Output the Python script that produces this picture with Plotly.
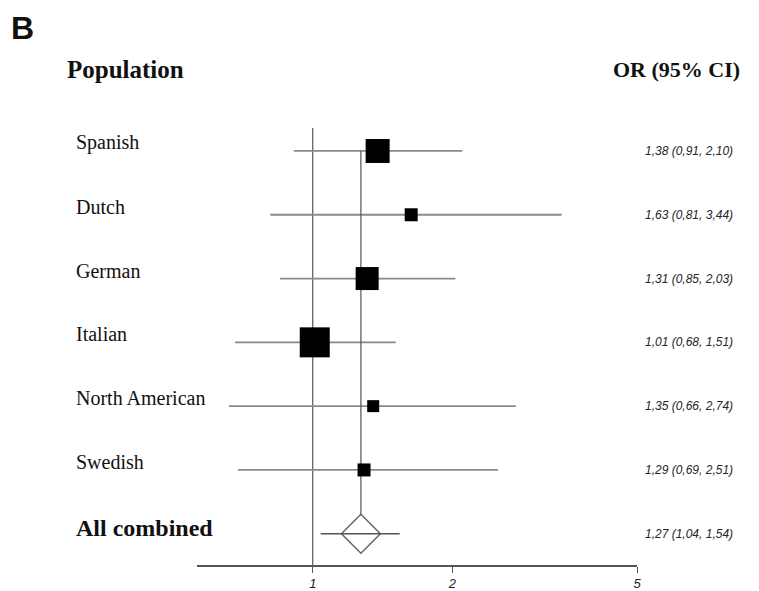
import math
import plotly.graph_objects as go

populations = ["Spanish", "Dutch", "German", "Italian", "North American", "Swedish"]
or_values = [1.38, 1.63, 1.31, 1.01, 1.35, 1.29]
ci_low = [0.91, 0.81, 0.85, 0.68, 0.66, 0.69]
ci_high = [2.10, 3.44, 2.03, 1.51, 2.74, 2.51]
box_sizes = [24, 13, 23, 30, 12, 13]

combined_label = "All combined"
combined_or = 1.27
combined_low = 1.04
combined_high = 1.54

tick_values = [1, 2, 5]
tick_labels = ["1", "2", "5"]


def fmt(v):
    return f"{v:.2f}".replace(".", ",")


n = len(populations)
rows = list(range(n))
comb_row = n

fig = go.Figure()

LINE_GREY = "#8a8a8a"
DARK_GREY = "#555555"

# CI lines for studies
cx, cy = [], []
for i in rows:
    cx += [ci_low[i], ci_high[i], None]
    cy += [i, i, None]
fig.add_trace(go.Scatter(x=cx, y=cy, mode="lines",
                         line=dict(color=LINE_GREY, width=1.8),
                         hoverinfo="skip", showlegend=False))

# vertical line at combined estimate
fig.add_trace(go.Scatter(x=[combined_or, combined_or], y=[0, comb_row],
                         mode="lines", line=dict(color=DARK_GREY, width=1.2),
                         hoverinfo="skip", showlegend=False))

# boxes
fig.add_trace(go.Scatter(x=or_values, y=rows, mode="markers",
                         marker=dict(symbol="square", size=box_sizes, color="black",
                                     opacity=1, line=dict(width=0)),
                         showlegend=False))

# diamond
fig.add_trace(go.Scatter(x=[combined_or], y=[comb_row], mode="markers",
                         marker=dict(symbol="diamond", size=30, color="white", opacity=1,
                                     line=dict(color="#666666", width=1.5)),
                         showlegend=False))

# combined CI line
fig.add_trace(go.Scatter(x=[combined_low, combined_high], y=[comb_row, comb_row],
                         mode="lines", line=dict(color=DARK_GREY, width=1.4),
                         hoverinfo="skip", showlegend=False))

# null line at OR = 1
fig.add_shape(type="line", xref="x", yref="paper", x0=1, x1=1, y0=0, y1=1,
              line=dict(color=DARK_GREY, width=1.2), layer="below")

serif = "Liberation Serif"
sans = "Liberation Sans"

LEFT_X = (74 - 197) / 440
RIGHT_X = (643 - 197) / 440

ann = []
for i, name in enumerate(populations):
    ann.append(dict(x=LEFT_X, y=i, xref="paper", yref="y", text=name,
                    showarrow=False, xanchor="left", yanchor="middle", yshift=8,
                    font=dict(family=serif, size=20, color="#111111")))
    ann.append(dict(x=RIGHT_X, y=i, xref="paper", yref="y",
                    text=f"<i>{fmt(or_values[i])} ({fmt(ci_low[i])}, {fmt(ci_high[i])})</i>",
                    showarrow=False, xanchor="left", yanchor="middle",
                    font=dict(family=sans, size=12, color="#262626")))
ann.append(dict(x=LEFT_X, y=comb_row, xref="paper", yref="y", text="<b>" + combined_label + "</b>",
                showarrow=False, xanchor="left", yanchor="middle", yshift=6,
                font=dict(family=serif, size=24, color="#111111")))
ann.append(dict(x=RIGHT_X, y=comb_row, xref="paper", yref="y",
                text=f"<i>{fmt(combined_or)} ({fmt(combined_low)}, {fmt(combined_high)})</i>",
                showarrow=False, xanchor="left", yanchor="middle",
                font=dict(family=sans, size=12, color="#262626")))
HEAD_Y = (565 - 70) / 437
ann.append(dict(x=(65 - 197) / 440, y=HEAD_Y, xref="paper", yref="paper", text="<b>Population</b>",
                showarrow=False, xanchor="left", yanchor="middle",
                font=dict(family=serif, size=25, color="#111111")))
ann.append(dict(x=(742 - 197) / 440, y=HEAD_Y, xref="paper", yref="paper", text="<b>OR (95% CI)</b>",
                showarrow=False, xanchor="right", yanchor="middle",
                font=dict(family=serif, size=22, color="#111111")))
ann.append(dict(x=(9 - 197) / 440, y=(565 - 28) / 437, xref="paper", yref="paper", text="<b>B</b>",
                showarrow=False, xanchor="left", yanchor="middle",
                font=dict(family=sans, size=32, color="#111111")))

fig.update_layout(
    width=751, height=590,
    margin=dict(l=189, r=122, t=120, b=33, autoexpand=False),
    plot_bgcolor="white", paper_bgcolor="white",
    annotations=ann,
    xaxis=dict(type="log", range=[math.log10(0.563), math.log10(5)],
               tickvals=tick_values, ticktext=["<i>" + t + "</i>" for t in tick_labels],
               automargin=False, ticklabelstandoff=0,
               showgrid=False, zeroline=False, showline=True,
               linecolor="#555555", linewidth=1.5,
               ticks="outside", ticklen=6, tickcolor="#555555",
               tickfont=dict(family=sans, size=13, color="#222222")),
    yaxis=dict(range=[6.49, -0.36], showgrid=False, zeroline=False, automargin=False,
               showticklabels=False, showline=False),
)

fig.write_html("out.html")
